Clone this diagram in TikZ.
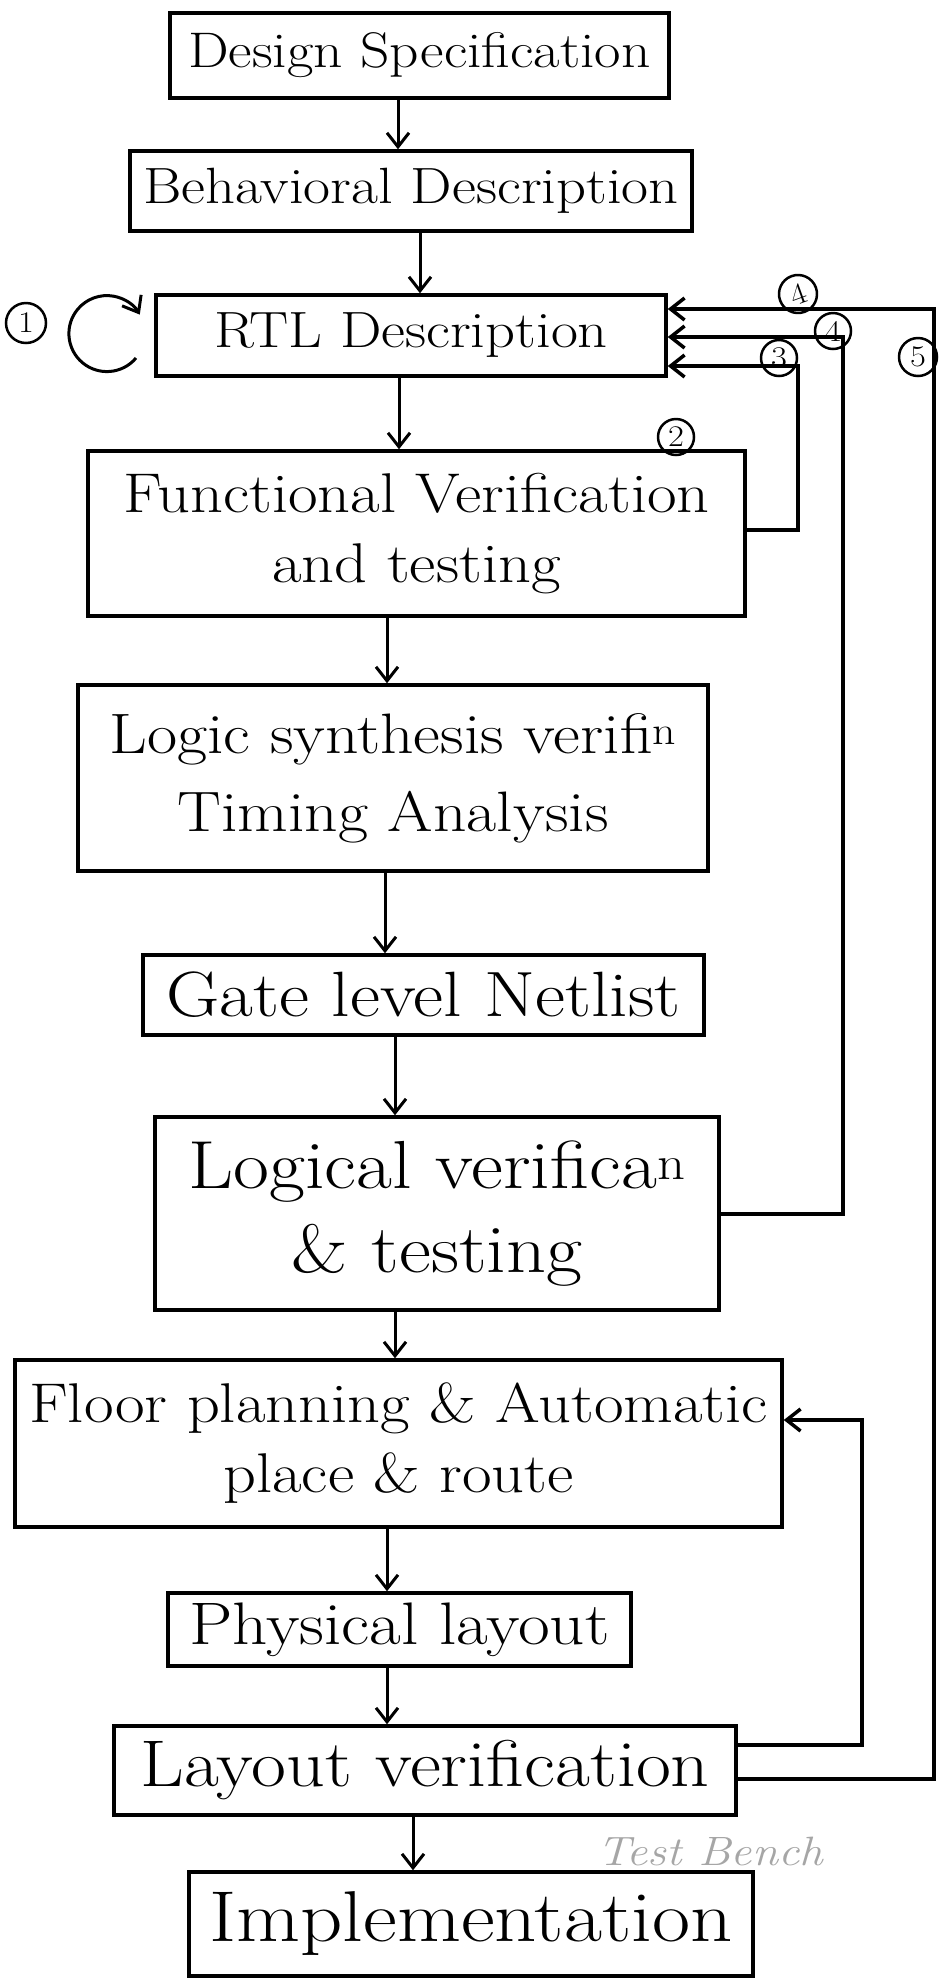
\documentclass[tikz,border=0pt]{standalone}
\usepackage{fontspec}
\setmainfont{Latin Modern Roman}[FakeStretch=1.15]
\usetikzlibrary{arrows.meta}
\newcommand\fsz[2]{\fontsize{#1}{#2}\selectfont}
\begin{document}
\begin{tikzpicture}[x=1pt,y=-1pt,
  box/.style={draw,line width=3.5pt,inner sep=0pt,align=center},
  arr/.style={line width=3pt,-{Straight Barb[length=14pt,width=22pt]}},
  fb/.style={line width=3.5pt,-{Straight Barb[length=14pt,width=22pt]}},
  num/.style={draw,circle,line width=2.5pt,minimum size=44pt,inner sep=0pt,font=\fsz{30}{34}}]
\useasboundingbox[fill=white] (0,0) rectangle (939,1979);
% boxes
\node[box,minimum width=499pt,minimum height=85pt,font=\fsz{50}{60}] (ds) at (419.5,55.5) {Design Specification};
\node[box,minimum width=562pt,minimum height=80pt,font=\fsz{51}{61}] (bd) at (411,191) {Behavioral Description};
\node[box,minimum width=510pt,minimum height=81pt,font=\fsz{51}{61}] (rtl) at (411,335.5) {RTL Description};
\node[box,minimum width=657pt,minimum height=165pt,font=\fsz{56}{70}] (fv) at (416.5,533.5) {Functional Verification\\and testing};
\node[box,minimum width=630pt,minimum height=186pt,font=\fsz{57}{78}] (ls) at (393,778) {Logic synthesis verifi\textsuperscript{n}\\Timing Analysis};
\node[box,minimum width=561pt,minimum height=80pt,font=\fsz{64}{72}] (gl) at (423.5,995) {Gate level Netlist};
\node[box,minimum width=564pt,minimum height=193pt,font=\fsz{68}{84}] (lv) at (437,1213.5) {Logical verifica\textsuperscript{n}\\\& testing};
\node[box,minimum width=767pt,minimum height=167pt,font=\fsz{56}{70}] (fp) at (398.5,1443.5) {Floor planning \& Automatic\\place \& route};
\node[box,minimum width=463pt,minimum height=73pt,font=\fsz{60}{68}] (pl) at (399.5,1629.5) {Physical layout};
\node[box,minimum width=622pt,minimum height=89pt,font=\fsz{66}{74}] (lay) at (425,1770.5) {Layout verification};
\node[box,minimum width=564pt,minimum height=104pt,font=\fsz{72}{80}] (imp) at (471,1924) {Implementation};
% main flow arrows
\draw[arr] (398,0 |- ds.south) -- (398,0 |- bd.north);
\draw[arr] (420,0 |- bd.south) -- (420,0 |- rtl.north);
\draw[arr] (399,0 |- rtl.south) -- (399,0 |- fv.north);
\draw[arr] (387,0 |- fv.south) -- (387,0 |- ls.north);
\draw[arr] (385,0 |- ls.south) -- (385,0 |- gl.north);
\draw[arr] (395,0 |- gl.south) -- (395,0 |- lv.north);
\draw[arr] (395,0 |- lv.south) -- (395,0 |- fp.north);
\draw[arr] (387,0 |- fp.south) -- (387,0 |- pl.north);
\draw[arr] (387,0 |- pl.south) -- (387,0 |- lay.north);
\draw[arr] (413,0 |- lay.south) -- (413,0 |- imp.north);
% feedback loops
\draw[fb] (fv.east |- 0,530) -- (798,530) -- (798,366) -- (rtl.east |- 0,366);
\draw[fb] (lv.east |- 0,1214) -- (843,1214) -- (843,337) -- (rtl.east |- 0,337);
\draw[fb] (lay.east |- 0,1779) -- (934,1779) -- (934,309) -- (rtl.east |- 0,309);
\draw[fb] (lay.east |- 0,1745) -- (862,1745) -- (862,1420) -- (fp.east |- 0,1420);
% self loop on RTL
\coordinate (ls1) at (136,358);
\draw[arr] (ls1) arc[start angle=40,end angle=330,radius=38];
% labels
\node[num,minimum size=40pt] (n1) at (26,323) {1};
\node[num,minimum size=36pt] (n2) at (676,437) {2};
\node[num,minimum size=36pt] (n3) at (779,358) {3};
\node[num,minimum size=36pt] (n4) at (833,331) {4};
\node[num,minimum size=38pt,rotate=20] (n4x) at (798,294) {4};
\node[num,minimum size=38pt] (n5) at (918,357) {5};
\node[text=gray!70,font=\fsz{41}{46}\itshape] (tb) at (710,1851) {Test Bench};
\end{tikzpicture}
\end{document}
